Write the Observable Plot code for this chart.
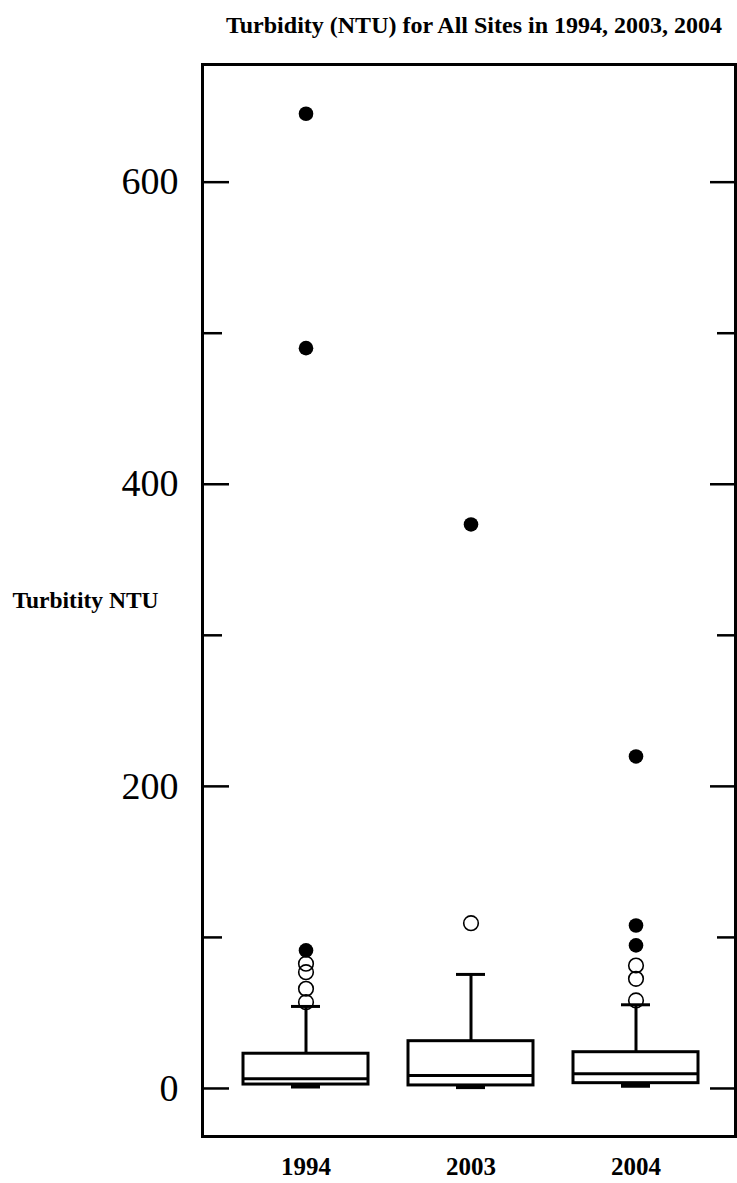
<!DOCTYPE html>
<html>
<head>
<meta charset="utf-8">
<script src="https://cdn.jsdelivr.net/npm/d3@7"></script>
<script src="https://cdn.jsdelivr.net/npm/@observablehq/plot@0.6"></script>
<style>
  html, body { margin: 0; padding: 0; background: white; }
  #chart svg { display: block; }
</style>
</head>
<body>
<div id="chart"></div>
<script>
// ---- data ----
const titleText = "Turbidity (NTU) for All Sites in 1994, 2003, 2004";
const yLabelText = "Turbitity NTU";
const years = ["1994", "2003", "2004"];
const whiskerLow = [1.3, 0.9, 1.8];
const q1 = [2.6, 2.0, 3.5];
const median = [6.4, 8.6, 9.7];
const q3 = [23.0, 31.3, 24.0];
const whiskerHigh = [54.3, 75.5, 55.4];
// open circles (outside whiskers)
const nearYear = ["1994", "1994", "1994", "1994", "2003", "2004", "2004", "2004"];
const nearValue = [82.6, 77.0, 66.0, 57.1, 109.4, 81.4, 72.6, 58.3];
// filled circles (far outliers)
const farYear = ["1994", "1994", "1994", "2003", "2004", "2004", "2004"];
const farValue = [645.3, 490.1, 91.4, 373.4, 219.8, 107.9, 94.7];
// axis ticks
const yTicksMajor = [0, 200, 400, 600];
const yTicksMinor = [100, 300, 500];
const yTickLabels = [0, 200, 400, 600];

// ---- layout ----
const W = 737, H = 1183;
const mL = 202, mR = 2, mT = 64, mB = 47;
const innerW = W - mL - mR;
const serif = "'Liberation Serif', 'Times New Roman', serif";

const chart = Plot.plot({
  width: W,
  height: H,
  marginLeft: mL,
  marginRight: mR,
  marginTop: mT,
  marginBottom: mB,
  style: { background: "white", overflow: "visible" },
  x: { type: "band", domain: years, range: [222.5, 717.5], paddingInner: 0.245, paddingOuter: 0.1225, axis: null },
  y: { domain: [-31.8, 677.9], axis: null },
  marks: [
    // tick marks, inside on both sides
    Plot.ruleY(yTicksMajor, { y: d => d, stroke: "black", strokeWidth: 2.5, insetRight: innerW - 27 }),
    Plot.ruleY(yTicksMinor, { y: d => d, stroke: "black", strokeWidth: 2.5, insetRight: innerW - 20 }),
    Plot.ruleY(yTicksMajor, { y: d => d, stroke: "black", strokeWidth: 2.5, insetLeft: innerW - 25 }),
    Plot.ruleY(yTicksMinor, { y: d => d, stroke: "black", strokeWidth: 2.5, insetLeft: innerW - 18 }),
    // tick labels
    Plot.text(yTickLabels, {
      y: d => d, text: d => String(d), frameAnchor: "left", dx: -24, textAnchor: "end",
      fontSize: 38, fontFamily: serif, fill: "black"
    }),
    // whiskers
    Plot.ruleX(years, { x: years, y1: q3, y2: whiskerHigh, stroke: "black", strokeWidth: 3 }),
    Plot.ruleX(years, { x: years, y1: whiskerLow, y2: q1, stroke: "black", strokeWidth: 3 }),
    // boxes
    Plot.barY(years, { x: years, y1: q1, y2: q3, fill: "white", stroke: "black", strokeWidth: 3 }),
    // medians
    Plot.tickY(years, { x: years, y: median, stroke: "black", strokeWidth: 3 }),
    // whisker caps
    Plot.tickY(years, { x: years, y: whiskerHigh, stroke: "black", strokeWidth: 3, insetLeft: 48, insetRight: 48 }),
    Plot.tickY(years, { x: years, y: whiskerLow, stroke: "black", strokeWidth: 4, insetLeft: 48, insetRight: 48 }),
    // outliers
    Plot.dot(nearValue, { x: nearYear, y: nearValue, r: 7.3, fill: "none", stroke: "black", strokeWidth: 1.6 }),
    Plot.dot(farValue, { x: farYear, y: farValue, r: 7.3, fill: "black", stroke: "none" }),
    // frame
    Plot.frame({ stroke: "black", strokeWidth: 3 }),
    // x category labels
    Plot.text(years, {
      x: years, text: years, frameAnchor: "bottom", dy: 38,
      fontSize: 25, fontWeight: "bold", fontFamily: serif, fill: "black"
    }),
    // y axis title
    Plot.text([yLabelText], {
      text: d => d, frameAnchor: "left", dx: -190, textAnchor: "start",
      fontSize: 23.5, fontWeight: "bold", fontFamily: serif, fill: "black"
    }),
    // chart title
    Plot.text([titleText], {
      text: d => d, frameAnchor: "top", dy: -49, dx: 5,
      fontSize: 24, fontWeight: "bold", fontFamily: serif, fill: "black"
    })
  ]
});
document.getElementById("chart").append(chart);
</script>
</body>
</html>
